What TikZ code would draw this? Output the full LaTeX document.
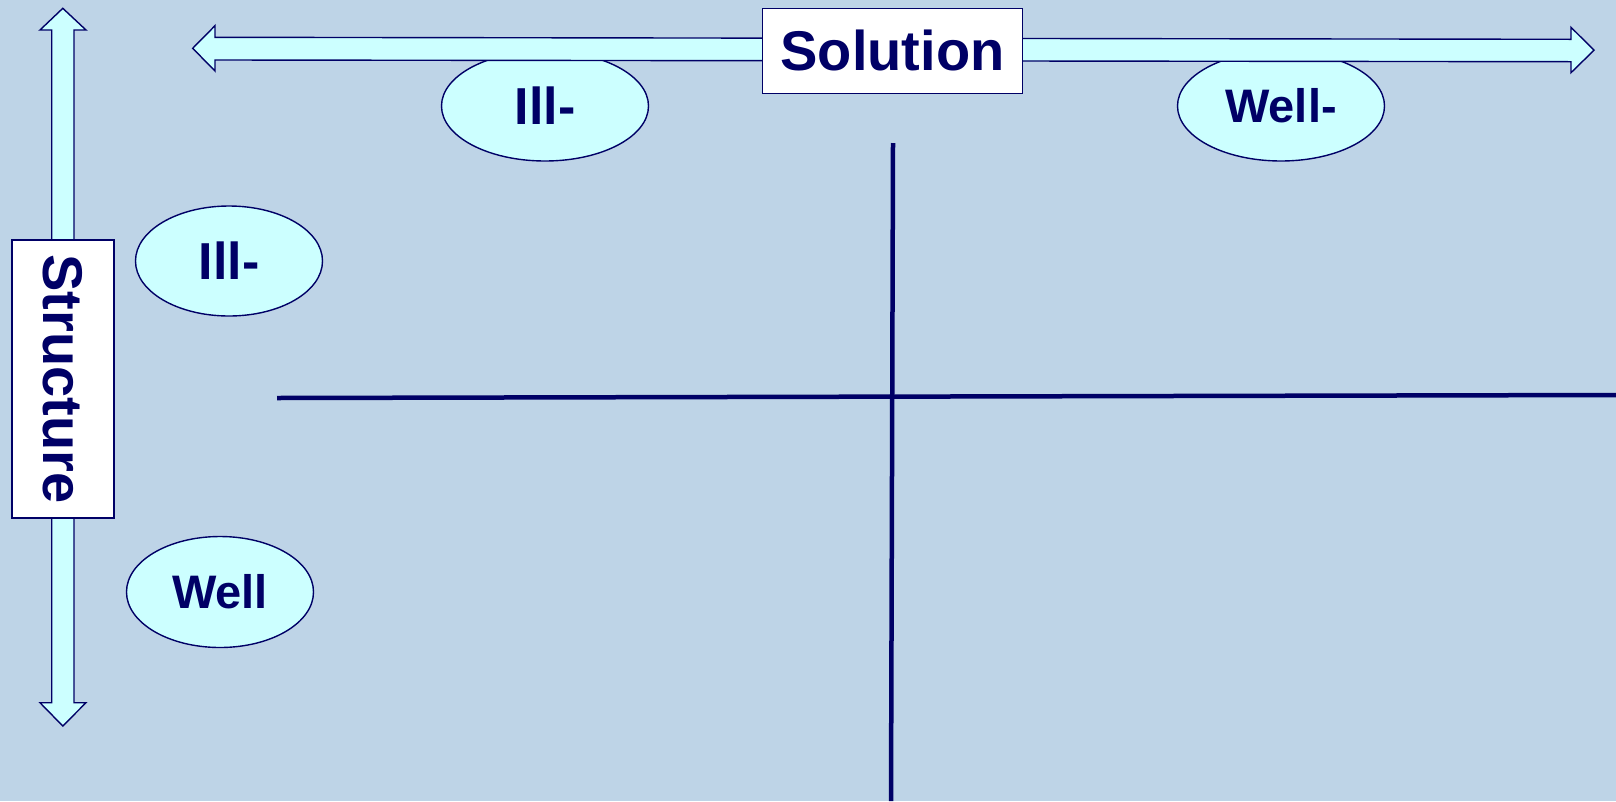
\documentclass[tikz,border=0pt]{standalone}
\usepackage{fontspec}
\setmainfont{Liberation Sans}
\usetikzlibrary{shapes.geometric}
\definecolor{bg}{RGB}{190,212,231}
\definecolor{pale}{RGB}{204,255,255}
\definecolor{navy}{RGB}{0,0,102}
\tikzset{
  arrowshape/.style={draw=navy, fill=pale, line width=1.4pt, line join=miter},
  oval/.style={ellipse, draw=navy, fill=pale, line width=1.4pt, inner sep=0pt,
    text=navy, font=\fontsize{47}{50}\selectfont\bfseries},
  labelbox/.style={rectangle, draw=navy, fill=white, line width=1.4pt, inner sep=0pt,
    text=navy, font=\fontsize{56}{60}\selectfont\bfseries},
  axis/.style={draw=navy, line width=4.5pt}
}
\begin{document}
\begin{tikzpicture}[x=1pt,y=-1pt]
\fill[bg] (0,0) rectangle (1616,801);
\useasboundingbox (0,0) rectangle (1616,801);
% ellipses (behind arrows)
\node[oval, minimum width=207pt, minimum height=110pt, font=\fontsize{52}{54}\selectfont\bfseries] (illtop) at (545,106) {Ill-};
\node[oval, minimum width=207pt, minimum height=110pt] (welltop) at (1281,106) {Well-};
\node[oval, minimum width=187pt, minimum height=110pt, font=\fontsize{52}{54}\selectfont\bfseries] (illleft) at (229,261) {Ill-};
\node[oval, minimum width=187pt, minimum height=111pt] (wellleft) at (220,592) {Well};
% vertical double arrow
\draw[arrowshape] (62.8,8.3) -- (86,30) -- (74,30) -- (74,702.7) -- (86,702.7)
  -- (62.8,726) -- (40,702.7) -- (51.7,702.7) -- (51.7,30) -- (40,30) -- cycle;
% horizontal double arrow
\draw[arrowshape] (192.7,48.3) -- (215,25.7) -- (215,37.3) -- (1571,39.3) -- (1571,27.3)
  -- (1594,50.2) -- (1571,72.7) -- (1571,61.7) -- (215,60) -- (215,71) -- cycle;
% label boxes
\node[labelbox, minimum width=260pt, minimum height=85pt] (solution) at (892.5,50.8) {Solution};
\node[labelbox, minimum width=102pt, minimum height=278pt] (structbox) at (62.8,379) {};
\node[text=navy, font=\fontsize{56}{60}\selectfont\bfseries, rotate=-90, inner sep=0pt] (structure) at (structbox.center) {Structure};
% quadrant axes
\coordinate (hl) at (277,398);
\coordinate (hr) at (1616,395);
\coordinate (vt) at (893,143);
\coordinate (vb) at (891,801);
\draw[axis] (hl) -- (hr);
\draw[axis] (vt) -- (vb);
\end{tikzpicture}
\end{document}
